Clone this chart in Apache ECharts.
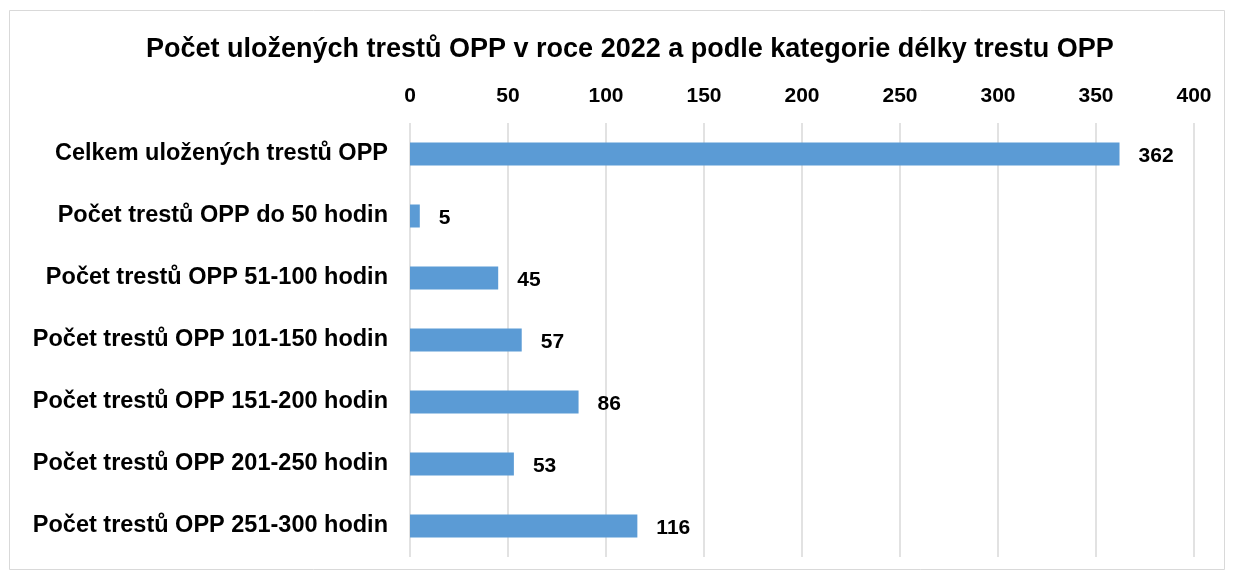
<!DOCTYPE html>
<html>
<head>
<meta charset="utf-8">
<script src="https://cdn.jsdelivr.net/npm/echarts@6/dist/echarts.min.js"></script>
<style>
html,body{margin:0;padding:0;background:#fff;}
#chart{width:1233px;height:577px;}
</style>
</head>
<body>
<div id="chart"></div>
<script>
const categories = [
  'Celkem uložených trestů OPP',
  'Počet trestů OPP do 50 hodin',
  'Počet trestů OPP 51-100 hodin',
  'Počet trestů OPP 101-150 hodin',
  'Počet trestů OPP 151-200 hodin',
  'Počet trestů OPP 201-250 hodin',
  'Počet trestů OPP 251-300 hodin'
]
const values = [362, 5, 45, 57, 86, 53, 116]

const font = 'Liberation Sans, Arial, sans-serif'
const chart = echarts.init(document.getElementById('chart'))

chart.setOption({
  backgroundColor: '#fff',
  animation: false,
  graphic: [{
    type: 'rect',
    shape: {x: 9.5, y: 10.5, width: 1215, height: 559},
    style: {fill: 'none', stroke: '#d9d9d9', lineWidth: 1},
    silent: true
  }],
  title: {
    text: 'Počet uložených trestů OPP v roce 2022 a podle kategorie délky trestu OPP',
    left: 146,
    top: 36,
    padding: 0,
    textStyle: {fontFamily: font, fontSize: 27, fontWeight: 'bold', color: '#000'}
  },
  grid: {left: 410, right: 39, top: 123, bottom: 20},
  xAxis: {
    type: 'value',
    position: 'top',
    min: 0,
    max: 400,
    interval: 50,
    axisLine: {show: false},
    axisTick: {show: false},
    axisLabel: {fontFamily: font, fontSize: 21, fontWeight: 'bold', color: '#000', margin: 16},
    splitLine: {lineStyle: {color: '#d9d9d9', width: 1.5}}
  },
  yAxis: {
    type: 'category',
    inverse: true,
    data: categories,
    axisLine: {show: false},
    axisTick: {show: false},
    axisLabel: {fontFamily: font, fontSize: 23.5, fontWeight: 'bold', color: '#000', margin: 22}
  },
  series: [{
    type: 'bar',
    data: values,
    barWidth: 23,
    itemStyle: {color: '#5b9bd5'},
    label: {
      show: true,
      position: 'right',
      distance: 19,
      offset: [0, 2],
      fontFamily: font,
      fontSize: 21,
      fontWeight: 'bold',
      color: '#000'
    }
  }]
})
</script>
</body>
</html>
